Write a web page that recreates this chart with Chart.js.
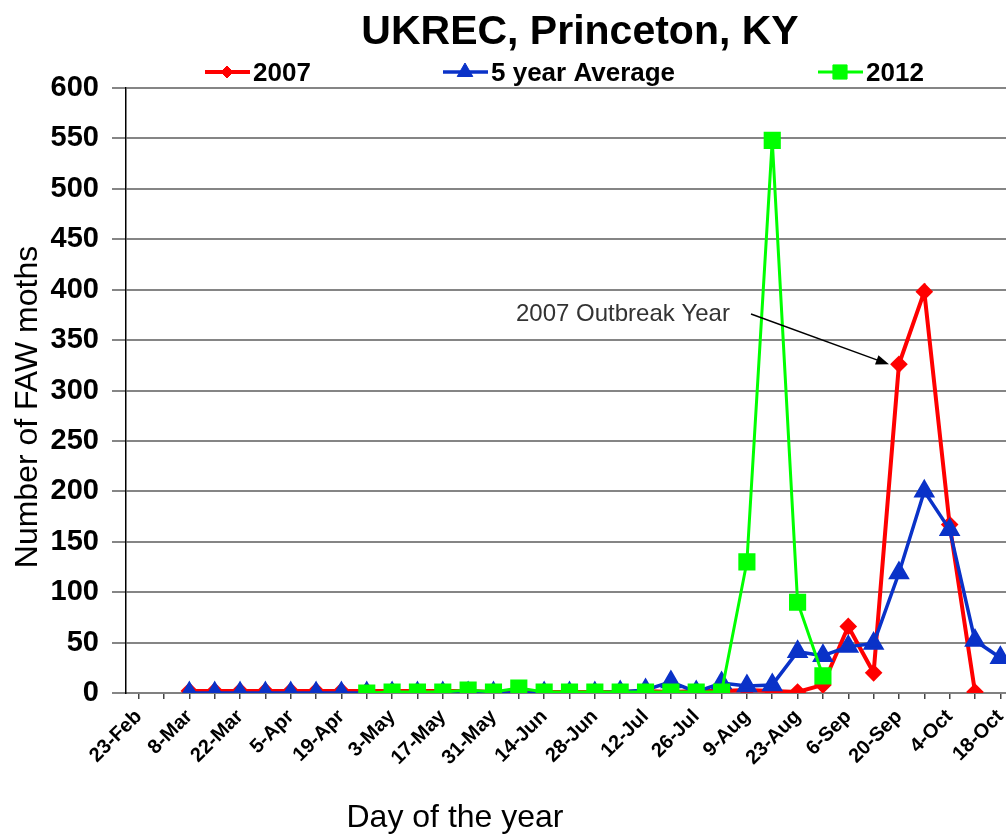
<!DOCTYPE html>
<html>
<head>
<meta charset="utf-8">
<script src="https://cdn.jsdelivr.net/npm/chart.js@4"></script>
<style>
  html, body { margin: 0; padding: 0; overflow: hidden; background: #fff; }
  canvas { display: block; }
</style>
</head>
<body>
<canvas id="fawChart" width="1026" height="834"></canvas>
<script>
const TITLE = 'UKREC, Princeton, KY';
const weeks = ['23-Feb','1-Mar','8-Mar','15-Mar','22-Mar','29-Mar','5-Apr','12-Apr','19-Apr','26-Apr',
  '3-May','10-May','17-May','24-May','31-May','7-Jun','14-Jun','21-Jun','28-Jun','5-Jul',
  '12-Jul','19-Jul','26-Jul','2-Aug','9-Aug','16-Aug','23-Aug','30-Aug','6-Sep','13-Sep',
  '20-Sep','27-Sep','4-Oct','11-Oct','18-Oct'];
const y2007 = [null, null, 2, 2, 2, 2, 2, 2, 2,
  2, 2, 2, 2, 2, 1, 2, 1, 1, 1, 1, 2, 1, 2, 2,
  3, 2, 1, 8, 66, 20, 326, 398, 167, 1, null];
const avg5 = [null, null, 0, 0, 0, 0, 0, 0, 0,
  0, 0, 0, 0, 0, 0, 0, 0, 0, 0, 1, 3, 11, 1, 10,
  7, 8, 41, 37, 46, 49, 119, 200, 162, 52, 35];
const y2012 = [null, null, null, null, null, null, null, null, null,
  0, 1, 1, 1, 3, 1, 5, 1, 1, 1, 1, 1, 1, 1, 1,
  130, 548, 90, 17, null, null, null, null, null, null, null];

const FONT = '"Liberation Sans", Arial, sans-serif';
const RED = '#ff0000', BLUE = '#0a32c8', GREEN = '#00ff00';

// title, legend, axis titles and the arrow note
const decor = {
    id: 'decor',
    afterDraw(chart) {
        const { ctx, scales: { x, y } } = chart;
        const H = Chart.helpers;
        ctx.save();
        ctx.fillStyle = '#000';
        ctx.font = 'bold 41px ' + FONT;
        ctx.textAlign = 'center';
        ctx.textBaseline = 'alphabetic';
        ctx.fillText(TITLE, 580, 44);

        // legend
        const items = [[205, 0], [443, 1], [818, 2]];
        ctx.font = 'bold 26px ' + FONT;
        ctx.textAlign = 'left';
        items.forEach(([lx, di]) => {
            const ds = chart.data.datasets[di];
            ctx.strokeStyle = ds.borderColor;
            ctx.fillStyle = ds.borderColor;
            ctx.lineWidth = ds.borderWidth;
            ctx.beginPath();
            ctx.moveTo(lx, 72);
            ctx.lineTo(lx + 45, 72);
            ctx.stroke();
            ctx.lineWidth = 1;
            H.drawPoint(ctx, { pointStyle: ds.pointStyle, radius: ds.pointRadius, rotation: 0, borderWidth: 1 }, lx + 22, 72);
            ctx.fillStyle = '#000';
            ctx.fillText(ds.label, lx + 48, 81);
        });

        // axis titles
        ctx.font = '32px ' + FONT;
        ctx.textAlign = 'center';
        ctx.fillText('Day of the year', 455, 827);
        ctx.save();
        ctx.translate(37, 407);
        ctx.rotate(-Math.PI / 2);
        ctx.fillText('Number of FAW moths', 0, 0);
        ctx.restore();

        // annotation
        ctx.font = '24px ' + FONT;
        ctx.fillStyle = '#333';
        ctx.textAlign = 'left';
        ctx.fillText('2007 Outbreak Year', 516, 321);
        const idx = weeks.indexOf('20-Sep');
        const tx = x.getPixelForValue(idx) - 10, ty = y.getPixelForValue(y2007[idx]);
        const sx = 751, sy = 314;
        const ang = Math.atan2(ty - sy, tx - sx);
        ctx.strokeStyle = '#000';
        ctx.fillStyle = '#000';
        ctx.lineWidth = 1.5;
        ctx.beginPath();
        ctx.moveTo(sx, sy);
        ctx.lineTo(tx - 10 * Math.cos(ang), ty - 10 * Math.sin(ang));
        ctx.stroke();
        ctx.beginPath();
        ctx.moveTo(tx, ty);
        ctx.lineTo(tx - 13 * Math.cos(ang) + 5 * Math.sin(ang), ty - 13 * Math.sin(ang) - 5 * Math.cos(ang));
        ctx.lineTo(tx - 13 * Math.cos(ang) - 5 * Math.sin(ang), ty - 13 * Math.sin(ang) + 5 * Math.cos(ang));
        ctx.closePath();
        ctx.fill();
        ctx.restore();
    }
};

new Chart(document.getElementById('fawChart'), {
    type: 'line',
    data: {
        labels: weeks,
        datasets: [
            { label: '2007', data: y2007, borderColor: RED, backgroundColor: RED, borderWidth: 4,
              pointStyle: 'rectRot', pointRadius: 6, order: 3 },
            { label: '5 year Average', data: avg5, borderColor: BLUE, backgroundColor: BLUE, borderWidth: 3.5,
              pointStyle: 'triangle', pointRadius: 9, order: 2 },
            { label: '2012', data: y2012, borderColor: GREEN, backgroundColor: GREEN, borderWidth: 3,
              pointStyle: 'rect', pointRadius: 10, order: 1 }
        ]
    },
    options: {
        responsive: false,
        animation: false,
        layout: { padding: { top: 88, right: 0, left: 0, bottom: 0 } },
        elements: { line: { tension: 0 }, point: { borderWidth: 1 } },
        plugins: { legend: { display: false }, title: { display: false }, tooltip: { enabled: false } },
        scales: {
            x: {
                offset: true,
                grid: { drawOnChartArea: false, drawTicks: true, tickLength: 6, color: '#444', lineWidth: 1.5 },
                border: { color: '#808080', width: 2 },
                ticks: {
                    autoSkip: false, minRotation: 45, maxRotation: 45, padding: 6, color: '#000',
                    font: { family: FONT, size: 20, weight: 'bold' },
                    callback: (v, i) => (i % 2 ? '' : weeks[i])
                },
                afterFit: s => { s.height = 141; }
            },
            y: {
                min: 0, max: 600,
                grid: { color: '#858585', lineWidth: 2, tickLength: 14 },
                border: { color: '#000', width: 1.5 },
                ticks: { stepSize: 50, padding: 13, color: '#000', font: { family: FONT, size: 29, weight: 'bold' } },
                afterFit: s => { s.width = 126; }
            }
        }
    },
    plugins: [decor]
});
</script>
</body>
</html>
